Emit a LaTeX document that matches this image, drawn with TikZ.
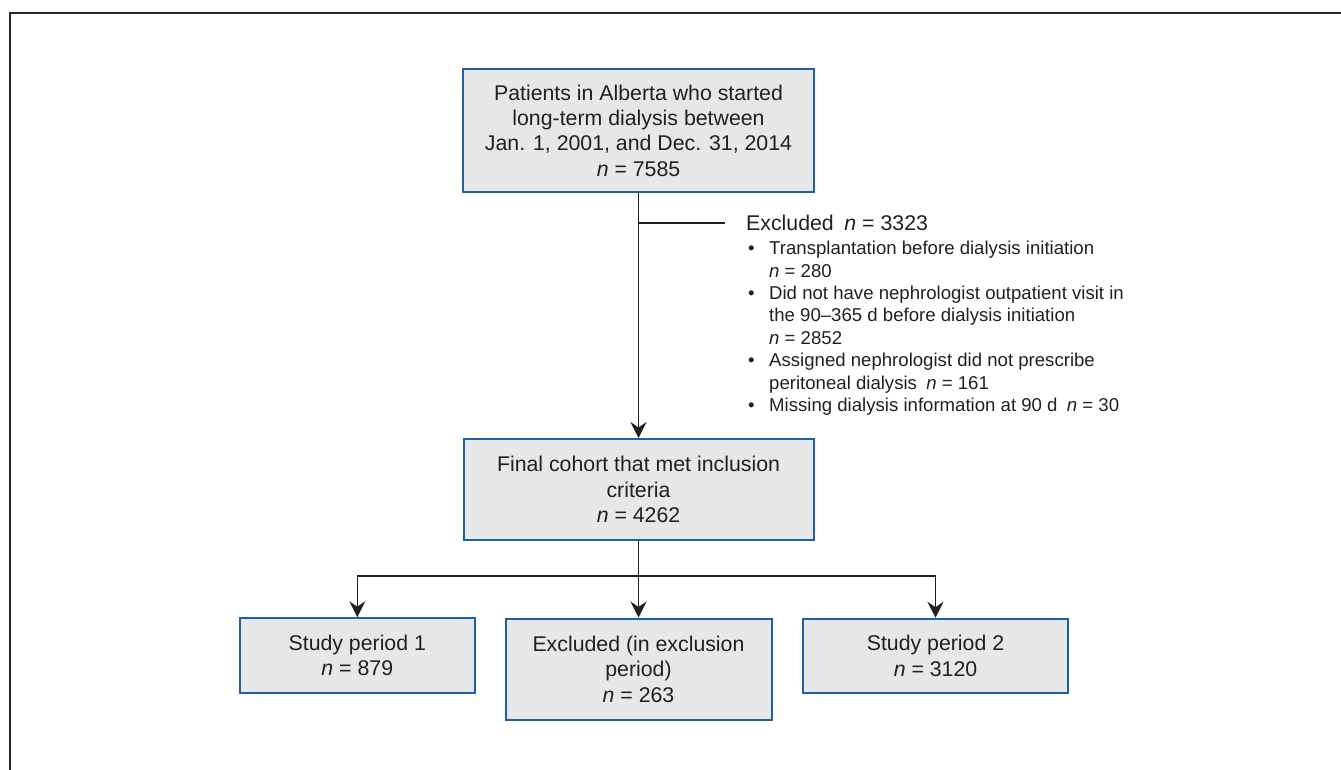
\documentclass[tikz,border=0pt]{standalone}
\usepackage{fontspec}
\setmainfont{Liberation Sans}
\usetikzlibrary{arrows.meta}
\definecolor{boxfill}{HTML}{E6E7E8}
\definecolor{boxline}{HTML}{1F5FA5}
\definecolor{ink}{HTML}{231F20}
\begin{document}
\begin{tikzpicture}[x=1pt,y=-1pt,
  box/.style={draw=boxline, line width=2pt, fill=boxfill, align=center, inner sep=0pt,
    font=\fontsize{21.3}{25.4}\selectfont, text=ink},
  conn/.style={draw=ink, line width=1.3pt},
  arr/.style={conn, -{Stealth[length=16pt,width=16pt,inset=5.5pt]}}]
\useasboundingbox (0,0) rectangle (1341,770);
\draw[line width=2pt, draw=black!85] (10,770) -- (10,13) -- (1341,13);

\node[box, minimum width=351pt, minimum height=123pt] (top) at (638.5,130.5)
  {Patients in Alberta who started\\long-term dialysis between\\Jan. 1, 2001, and Dec. 31, 2014\\\textit{n} = 7585};
\node[box, minimum width=350pt, minimum height=101pt] (final) at (638.5,489.5)
  {Final cohort that met inclusion\\criteria\\\textit{n} = 4262};
\node[box, minimum width=235pt, minimum height=74.5pt] (s1) at (357.3,655.5)
  {Study period 1\\\textit{n} = 879};
\node[box, minimum width=266pt, minimum height=101pt] (ex) at (638.5,669)
  {Excluded (in exclusion\\period)\\\textit{n} = 263};
\node[box, minimum width=265pt, minimum height=74.5pt] (s2) at (935.5,656)
  {Study period 2\\\textit{n} = 3120};

\node[anchor=base west, inner sep=0pt, text=ink, font=\fontsize{21.3}{25}\selectfont] (exh) at (746,230)
  {Excluded\hspace{0.5em}\textit{n} = 3323};
\node[anchor=north west, inner sep=0pt, align=left, text=ink, font=\fontsize{18.6}{22.4}\selectfont] (exl) at (748,238.8)
  {\strut\makebox[21pt][l]{\textbullet}Transplantation before dialysis initiation\\
   \hspace*{21pt}\textit{n} = 280\\
   \makebox[21pt][l]{\textbullet}Did not have nephrologist outpatient visit in\\
   \hspace*{21pt}the 90–365 d before dialysis initiation\\
   \hspace*{21pt}\textit{n} = 2852\\
   \makebox[21pt][l]{\textbullet}Assigned nephrologist did not prescribe\\
   \hspace*{21pt}peritoneal dialysis\hspace{0.5em}\textit{n} = 161\\
   \makebox[21pt][l]{\textbullet}Missing dialysis information at 90 d\hspace{0.5em}\textit{n} = 30};

\coordinate (side) at (725,223);
\coordinate (b) at (638.5,576);
\draw[arr] (top.south) -- (final.north);
\draw[conn] (top.south |- side) -- (side);
\draw[conn] (final.south) -- (b);
\draw[arr] (b) -- (ex.north);
\draw[arr] (b) -| (s1.north);
\draw[arr] (b) -| (s2.north);
\end{tikzpicture}
\end{document}
